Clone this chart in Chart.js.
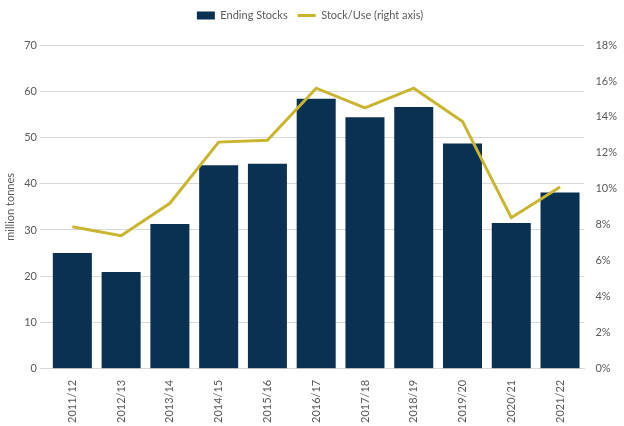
<!DOCTYPE html>
<html><head><script src="https://cdn.jsdelivr.net/npm/chart.js@4"></script>
<style>body{margin:0;background:#fff}#w{width:624px;height:426px}</style></head>
<body><div id="w"><canvas id="c"></canvas></div>
<script>
const categories=["2011/12","2012/13","2013/14","2014/15","2015/16","2016/17","2017/18","2018/19","2019/20","2020/21","2021/22"];
const endingStocks=[25.0,20.9,31.3,44.0,44.3,58.4,54.4,56.6,48.7,31.5,38.1];
const stockUse=[7.9,7.4,9.2,12.6,12.7,15.6,14.5,15.6,13.75,8.4,10.1];
Chart.defaults.font.family="Lato";
Chart.defaults.color="#595959";
new Chart(document.getElementById('c'),{
data:{labels:categories,datasets:[
{type:'line',label:'Stock/Use (right axis)',data:stockUse,yAxisID:'y1',borderColor:'#c9b52e',backgroundColor:'#c9b52e',borderWidth:3,pointRadius:0,pointStyle:'line',tension:0,order:0},
{type:'bar',label:'Ending Stocks',data:endingStocks,yAxisID:'y',backgroundColor:'#0b3152',pointStyle:'rect',categoryPercentage:1,barPercentage:0.8,order:1}
]},
options:{responsive:true,maintainAspectRatio:false,animation:false,
layout:{padding:{left:0,right:4,top:0,bottom:0}},
plugins:{legend:{reverse:true,labels:{usePointStyle:true,pointStyleWidth:18,boxHeight:8,font:{size:11},padding:10}},tooltip:{enabled:false}},
scales:{
x:{grid:{display:false},border:{color:'#d9d9d9'},ticks:{maxRotation:90,minRotation:90,font:{size:11}}},
y:{min:0,max:70,afterFit:s=>{},ticks:{stepSize:10,font:{size:11}},title:{display:true,text:'million tonnes',font:{size:11}},grid:{color:'#d9d9d9'},border:{display:false}},
y1:{position:'right',min:0,max:18,ticks:{stepSize:2,callback:v=>v+'%',font:{size:11}},grid:{display:false},border:{display:false}}
}},
plugins:[{id:'pad',beforeInit(c){c.legend&&0;},afterInit(c){const f=c.legend.fit;c.legend.fit=function(){f.call(this);this.height+=14;};}}]
});
</script></body></html>
